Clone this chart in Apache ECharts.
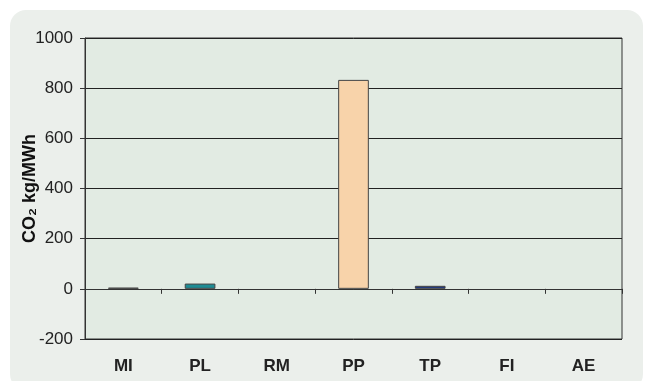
<!DOCTYPE html>
<html><head><meta charset="utf-8">
<script src="https://cdn.jsdelivr.net/npm/echarts@6/dist/echarts.min.js"></script>
<style>html,body{margin:0;padding:0;background:#fff}#c{width:648px;height:381px}</style>
</head><body><div id="c"></div>
<script>
var categories = ['MI','PL','RM','PP','TP','FI','AE'];
var values = [5, 21, 0, 833, 12, 0, 0];
var barColors = ['#333333','#1e8c94','#cccccc','#f8d3aa','#1f3a88','#cccccc','#cccccc'];
var yTicks = {min: -200, max: 1000, interval: 200};
var yName = 'CO₂ kg/MWh';

var FONT = '"Liberation Sans", Arial, sans-serif';
var chart = echarts.init(document.getElementById('c'));
chart.setOption({
  backgroundColor: '#ffffff',
  animation: false,
  graphic: [{
    type: 'rect', z: -10, silent: true,
    shape: {x: 10, y: 10, width: 633, height: 380, r: 16},
    style: {fill: '#ebefeb'}
  }],
  grid: {left: 85, right: 26, top: 38, bottom: 42, show: true,
    backgroundColor: '#e2ebe3', borderColor: '#333', borderWidth: 1},
  xAxis: [{
    type: 'category', data: categories,
    axisLine: {onZero: true, lineStyle: {color: '#333', width: 1}},
    axisTick: {show: true, length: 5, lineStyle: {color: '#333'}},
    axisLabel: {show: false}
  }, {
    type: 'category', data: categories, position: 'bottom',
    axisLine: {show: false}, axisTick: {show: false}, splitLine: {show: false},
    axisLabel: {show: true, fontFamily: FONT, fontWeight: 'bold', fontSize: 17, color: '#222', margin: 19}
  }],
  yAxis: {
    type: 'value', min: yTicks.min, max: yTicks.max, interval: yTicks.interval,
    name: yName, nameLocation: 'middle', nameGap: 46, nameRotate: 90, nameMoveOverlap: false,
    nameTextStyle: {fontFamily: FONT, fontWeight: 'bold', fontSize: 18, color: '#111'},
    axisLine: {show: true, lineStyle: {color: '#333'}},
    axisTick: {show: true, length: 5, lineStyle: {color: '#333'}},
    splitLine: {show: true, lineStyle: {color: '#222', width: 1}},
    axisLabel: {fontFamily: FONT, fontSize: 17, color: '#222', margin: 12,
      formatter: function(v){ return String(v); }}
  },
  series: [{
    type: 'bar', barWidth: '40%', xAxisIndex: 0,
    data: values.map(function(v, i){
      return {value: v, itemStyle: {color: barColors[i], borderColor: '#444', borderWidth: v === 0 ? 0 : 1}};
    })
  }]
});
</script></body></html>
